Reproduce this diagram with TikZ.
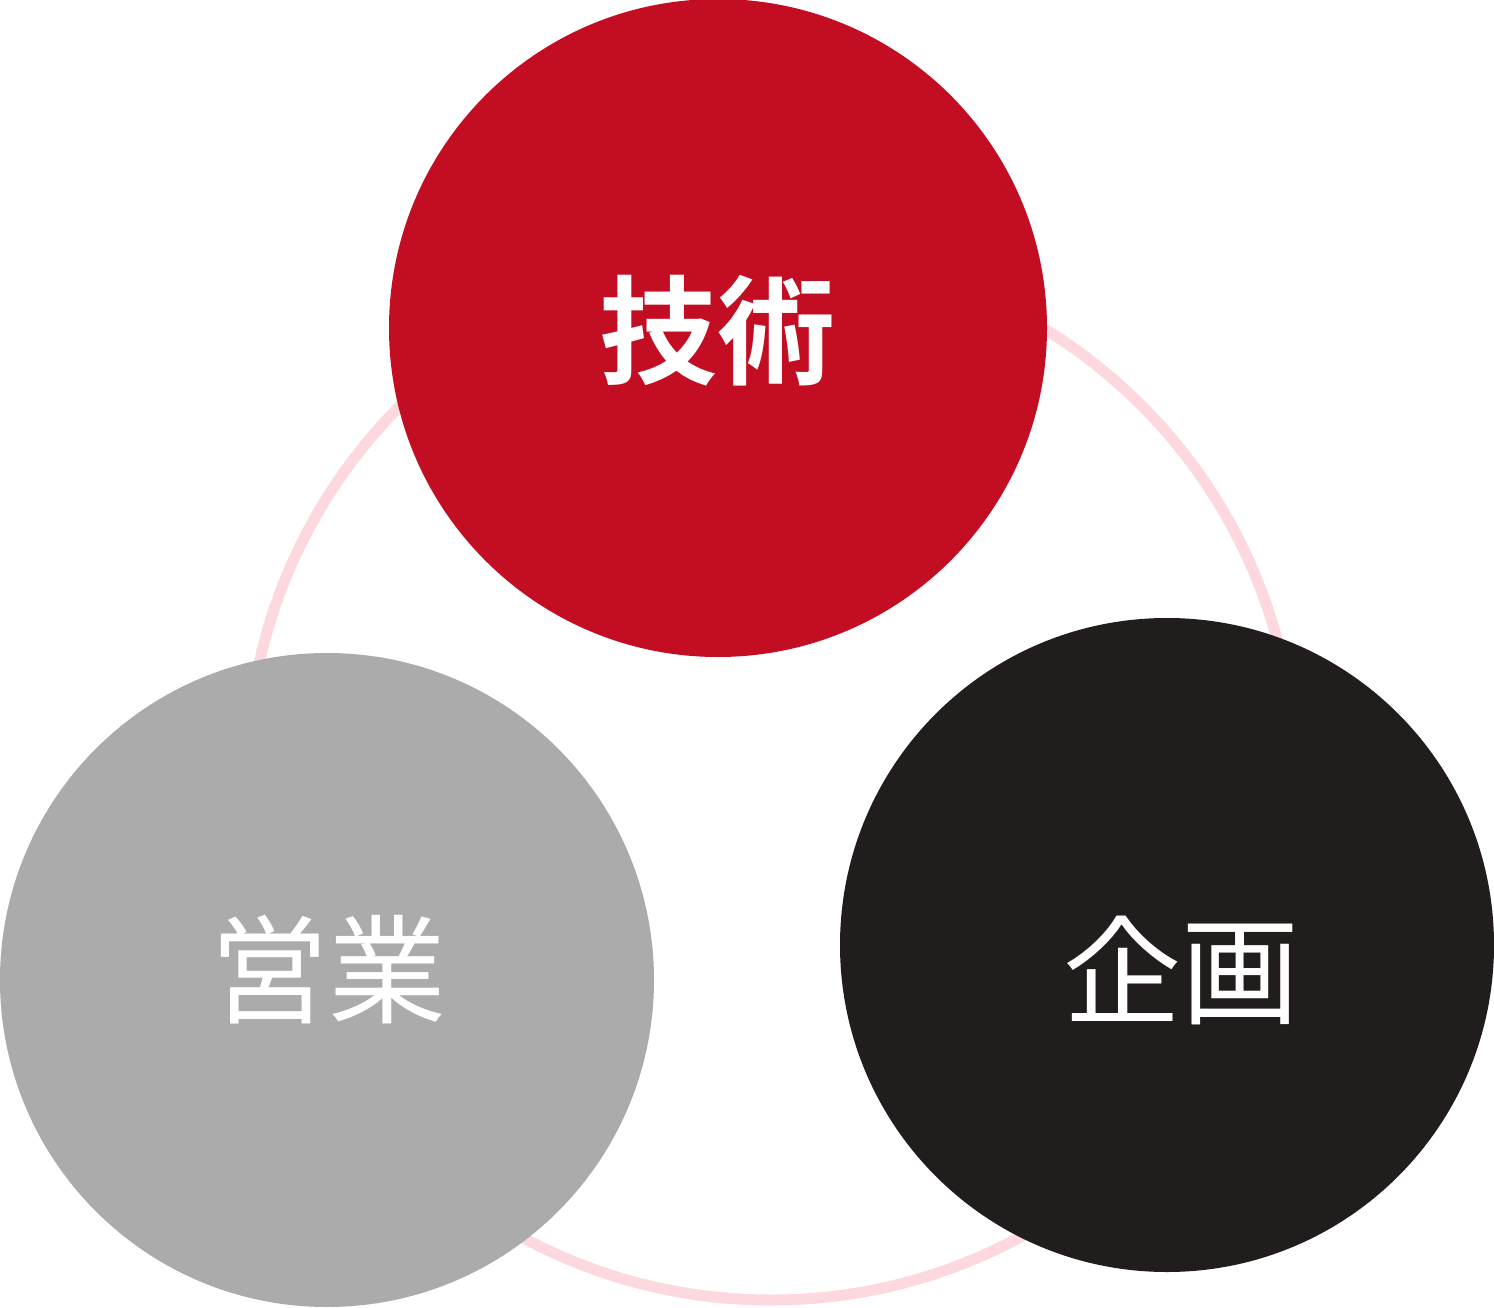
\documentclass[tikz,border=0pt]{standalone}
\usepackage{fontspec}
\newfontfamily\cjk{Noto Sans CJK JP}
\newfontfamily\cjkb{Noto Sans CJK JP Bold}
\definecolor{ringpink}{HTML}{FDD9DF}
\definecolor{tred}{HTML}{C30D23}
\definecolor{tgray}{HTML}{ABABAB}
\definecolor{tblack}{HTML}{201D1C}
\begin{document}
\begin{tikzpicture}[x=1pt,y=-1pt,
  disc/.style={circle,inner sep=0pt,minimum size=#1},
  lbl/.style={text=white,font=\cjk\fontsize{118}{118}\selectfont,inner sep=0pt}]
\useasboundingbox (0,0) rectangle (1494,1308);
\node[circle,draw=ringpink,line width=11pt,minimum size=1048pt,inner sep=0pt] (ring) at (771,776) {};
\node[disc=658pt,fill=tred] (tech) at (718,328) {};
\node[disc=654pt,fill=tgray] (sales) at (327,980) {};
\node[disc=654pt,fill=tblack] (plan) at (1167,945) {};
\node[lbl,font=\cjkb\fontsize{118}{118}\selectfont] (techl) at (717,331) {技術};
\node[lbl] (salesl) at (328,970) {営業};
\node[lbl] (planl) at (1181,970) {企画};
\end{tikzpicture}
\end{document}
